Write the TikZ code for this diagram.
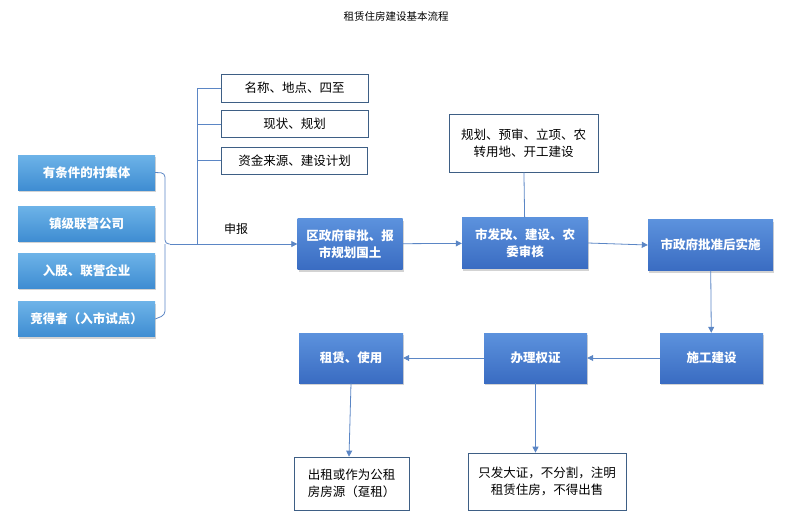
\documentclass[tikz,border=0pt]{standalone}
\usepackage{fontspec}
\setmainfont{Noto Sans CJK SC}
\usetikzlibrary{arrows.meta, shadows}

\definecolor{linkblue}{HTML}{5B86C5}
\definecolor{notebord}{HTML}{3E5F85}
\definecolor{skytop}{HTML}{6DB3E8}
\definecolor{skybot}{HTML}{3F8DD2}
\definecolor{proctop}{HTML}{5C92DD}
\definecolor{procbot}{HTML}{3A6CC2}

\tikzset{
  boxtext/.style={font=\fontsize{12.5}{17}\selectfont, align=center, inner sep=0pt},
  srcbox/.style={boxtext, font=\fontsize{12.5}{17}\selectfont\bfseries, text=white,
    top color=skytop, bottom color=skybot,
    minimum width=137pt, minimum height=35pt,
    drop shadow={shadow xshift=1pt, shadow yshift=-2pt, opacity=0.35}},
  procbox/.style={boxtext, font=\fontsize{12.5}{17}\selectfont\bfseries, text=white,
    top color=proctop, bottom color=procbot,
    minimum height=51pt,
    drop shadow={shadow xshift=1pt, shadow yshift=-2pt, opacity=0.35}},
  notebox/.style={boxtext, draw=notebord, line width=0.7pt, fill=white},
  link/.style={draw=linkblue, line width=0.8pt},
  flow/.style={link, -{Triangle[length=6pt,width=6pt]}}
}

\begin{document}
\begin{tikzpicture}[x=1pt, y=-1pt]
\useasboundingbox (0,0) rectangle (792,523);
% Title
\node[font=\fontsize{10.5}{12}\selectfont] (title) at (396,17) {租赁住房建设基本流程};
% Applicants
\node[srcbox] (cun)  at (86.5,172.5) {有条件的村集体};
\node[srcbox] (zhen) at (86.5,223.5) {镇级联营公司};
\node[srcbox] (rugu) at (86.5,270.5) {入股、联营企业};
\node[srcbox] (jing) at (86.5,319)   {竞得者（入市试点）};
% Materials
\node[notebox, minimum width=147pt, minimum height=28pt] (ming)  at (294.5,88)    {名称、地点、四至};
\node[notebox, minimum width=147pt, minimum height=27pt] (xian)  at (294.5,124)   {现状、规划};
\node[notebox, minimum width=146pt, minimum height=27pt] (zijin) at (294.5,160.5) {资金来源、建设计划};
% Approval chain
\node[procbox, minimum width=105pt] (qu)    at (350,244)   {区政府审批、报\\市规划国土};
\node[procbox, minimum width=126pt] (fagai) at (525,243)   {市发改、建设、农\\委审核};
\node[procbox, minimum width=125pt] (shi)   at (710.5,245) {市政府批准后实施};
\node[notebox, minimum width=149pt, minimum height=58pt] (guihua) at (523.5,143) {规划、预审、立项、农\\转用地、开工建设};
% Construction and use
\node[procbox, minimum width=103pt, minimum height=50pt] (shigong) at (711.5,358) {施工建设};
\node[procbox, minimum width=103pt, minimum height=50pt] (banli)   at (535.5,358) {办理权证};
\node[procbox, minimum width=104pt, minimum height=50pt] (zulin)   at (351,358)   {租赁、使用};
\node[notebox, minimum width=115pt, minimum height=53pt] (chuzu) at (351.5,483.5) {出租或作为公租\\房房源（趸租）};
\node[notebox, minimum width=158pt, minimum height=57pt] (zhifa) at (547,481.5)   {只发大证，不分割，注明\\租赁住房，不得出售};
% Bracket joining the applicants
\coordinate (brk) at (170,244);
\coordinate (spine) at (197,244);
\draw[link, rounded corners=4pt] (cun.east) -- (165,173) -- (165,244) -- (brk);
\draw[link, rounded corners=4pt] (jing.east) -- (165,315) -- (165,244);
% Report line
\draw[flow] (brk) -- (qu.west) node[pos=0.52, above=6pt, font=\fontsize{12}{14}\selectfont, text=black] {申报};
\draw[link] (spine) |- (ming.west);
\draw[link] (spine) |- (xian.west);
\draw[link] (spine) |- (zijin.west);
% Main flow
\draw[flow] (qu) -- (fagai);
\draw[flow] (fagai.east) -- (shi.west);
\draw[link] (guihua) -- (fagai);
\draw[flow] (shi) -- (shigong);
\draw[flow] (shigong) -- (banli);
\draw[flow] (banli) -- (zulin);
\draw[flow] (zulin.south) -- (chuzu.north -| 349,0);
\draw[flow] (banli.south) -- (banli.south |- zhifa.north);
\end{tikzpicture}
\end{document}
